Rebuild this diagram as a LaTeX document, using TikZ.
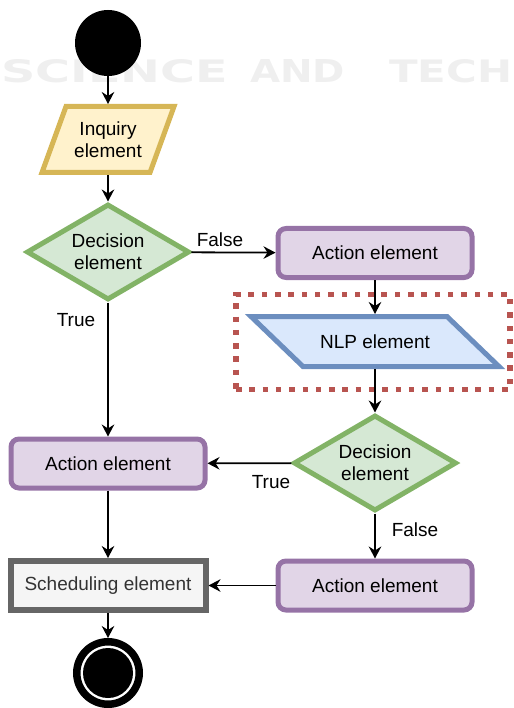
\documentclass[tikz,border=0pt]{standalone}
\usepackage{fontspec}
\usepackage{graphicx}
\setmainfont{Liberation Sans}
\newfontfamily\wmfont{DejaVu Sans}
\usetikzlibrary{arrows.meta,shapes.geometric}
\definecolor{actdraw}{HTML}{9673A6}
\definecolor{actfill}{HTML}{E1D5E7}
\definecolor{decdraw}{HTML}{82B366}
\definecolor{decfill}{HTML}{D5E8D4}
\definecolor{inqdraw}{HTML}{D6B656}
\definecolor{inqfill}{HTML}{FFF2CC}
\definecolor{nlpdraw}{HTML}{6C8EBF}
\definecolor{nlpfill}{HTML}{DAE8FC}
\definecolor{grpdraw}{HTML}{B85450}
\definecolor{scheddraw}{HTML}{666666}
\definecolor{schedfill}{HTML}{F5F5F5}
\definecolor{schedtext}{HTML}{333333}
\definecolor{wmgray}{HTML}{EFEFEF}
\tikzset{
  txt/.style={font=\fontsize{19}{22}\selectfont, align=center},
  actbox/.style={txt, rectangle, rounded corners=8pt, draw=actdraw, fill=actfill,
    line width=5pt, minimum width=194pt, minimum height=49pt, inner sep=0pt},
  decbox/.style={diamond, draw=decdraw, fill=decfill, line width=5pt,
    minimum width=163pt, minimum height=96pt, inner sep=0pt},
  dectext/.style={txt, inner sep=0pt},
  paratext/.style={txt, inner sep=0pt, outer sep=2.5pt},
  schedbox/.style={txt, rectangle, draw=scheddraw, fill=schedfill, text=schedtext,
    line width=6pt, minimum width=195pt, minimum height=49pt, inner sep=0pt},
  grpbox/.style={rectangle, draw=grpdraw, line width=5.5pt, dash pattern=on 5.5pt off 7.8pt,
    minimum width=274pt, minimum height=95pt, inner sep=0pt},
  arr/.style={line width=1.8pt, -{Stealth[length=12pt,width=12.5pt,inset=4pt]}},
  lbl/.style={txt, inner sep=0pt},
  wm/.style={text=wmgray, inner sep=0pt, anchor=west, font=\wmfont\bfseries},
}
\begin{document}
\begin{tikzpicture}[x=1pt,y=-1pt]
\useasboundingbox (0,0) rectangle (513,708);
% faint watermark
\node[wm] (wm1) at (1,71.5) {\resizebox{227pt}{23pt}{SCIENCE}};
\node[wm] (wm2) at (250,71.5) {\resizebox{95pt}{23pt}{AND}};
\node[wm] (wm3) at (389,71.5) {\resizebox{123pt}{23pt}{TECH}};

% start
\node[circle, fill=black, minimum size=66pt, inner sep=0pt] (start) at (108,43) {};

% inquiry parallelogram
\filldraw[draw=inqdraw, fill=inqfill, line width=5pt]
  (66,106.5) -- (174,106.5) -- (150,172.5) -- (42,172.5) -- cycle;
\node[paratext, minimum height=66pt] (inq) at (108,139.5) {Inquiry\\element};

% decision 1
\node[decbox] (d1) at (108,252) {};
\node[dectext] (d1t) at (108,252) {Decision\\element};

% action 1
\node[actbox] (a1) at (375,253) {Action element};

% NLP group
\node[grpbox] (grp) at (373,342) {};
\filldraw[draw=nlpdraw, fill=nlpfill, line width=5pt]
  (251,316.5) -- (447,316.5) -- (499,366.5) -- (303,366.5) -- cycle;
\node[paratext, minimum height=50pt] (nlp) at (375,341.5) {NLP element};

% decision 2
\node[decbox] (d2) at (375,463) {};
\node[dectext] (d2t) at (375,463) {Decision\\element};

% action 2, 3
\node[actbox] (a2) at (108,463.5) {Action element};
\node[actbox] (a3) at (375,585.5) {Action element};

% scheduling
\node[schedbox] (sched) at (108,585.5) {Scheduling element};

% end
\node[circle, draw=black, fill=white, line width=7.5pt, minimum size=62.5pt, inner sep=0pt] (end) at (108,673) {};
\node[circle, fill=black, minimum size=50pt, inner sep=0pt] (endin) at (108,673) {};

% connectors
\draw[arr] (start) -- (inq);
\draw[arr] (inq) -- (d1);
\draw[arr] (d1) -- (a1);
\draw[arr] (a1) -- (nlp);
\draw[arr] (nlp) -- (d2);
\draw[arr] (d1) -- (a2);
\draw[arr] (d2) -- (a2);
\draw[arr] (d2) -- (a3);
\draw[arr] (a2) -- (sched);
\draw[arr] (a3) -- (sched);
\draw[arr] (sched) -- (end);

% labels
\node[lbl] (lf1) at (220,239.5) {False};
\node[lbl] (lt1) at (76,320) {True};
\node[lbl] (lt2) at (271,482) {True};
\node[lbl] (lf2) at (415,530) {False};
\end{tikzpicture}
\end{document}
